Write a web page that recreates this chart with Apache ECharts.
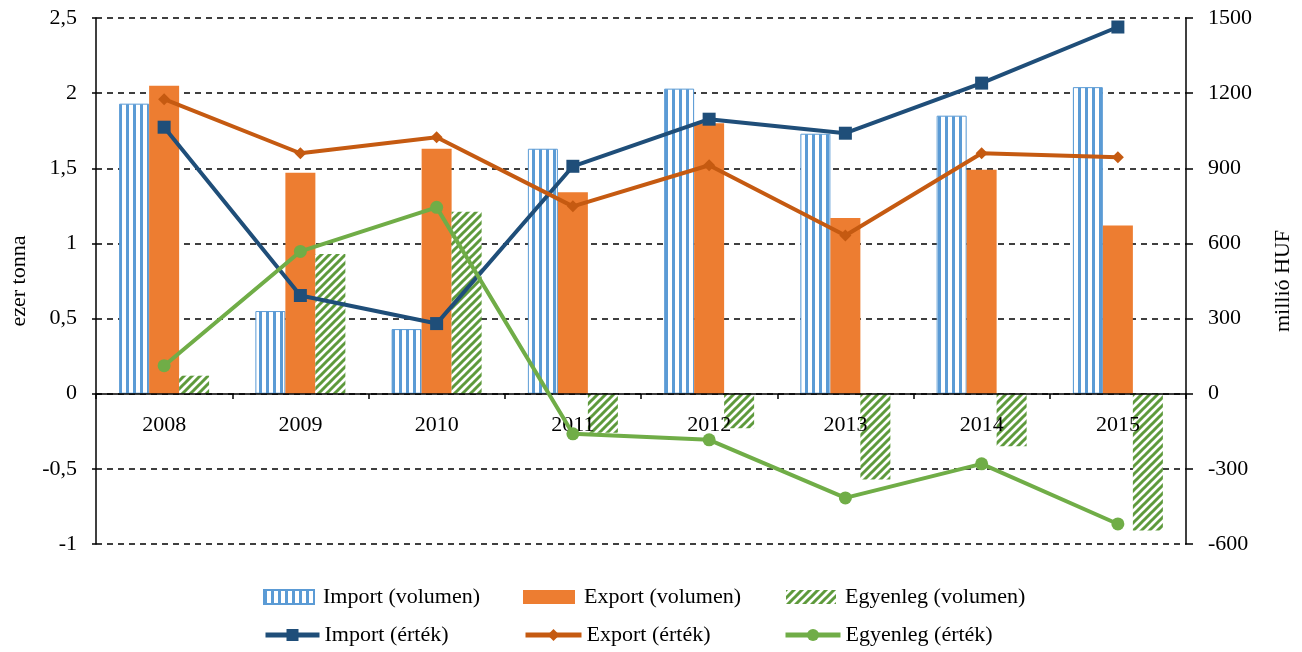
<!DOCTYPE html>
<html>
<head>
<meta charset="utf-8">
<script src="https://cdn.jsdelivr.net/npm/echarts@6/dist/echarts.min.js"></script>
<style>
html, body { margin: 0; padding: 0; background: #fff; }
#chart { width: 1302px; height: 652px; }
</style>
</head>
<body>
<div id="chart"></div>
<script>
const years = ["2008", "2009", "2010", "2011", "2012", "2013", "2014", "2015"];
// ezer tonna
const importVol = [1.93, 0.55, 0.43, 1.63, 2.03, 1.73, 1.85, 2.04];
const exportVol = [2.05, 1.47, 1.63, 1.34, 1.80, 1.17, 1.49, 1.12];
const balanceVol = [0.12, 0.93, 1.21, -0.26, -0.23, -0.57, -0.35, -0.91];
// millió HUF
const importVal = [1064, 392, 280, 908, 1096, 1040, 1240, 1464];
const exportVal = [1176, 960, 1024, 748, 912, 632, 960, 944];
const balanceVal = [112, 568, 744, -160, -184, -416, -280, -520];

const font = "Liberation Serif";

function stripes() {
  const c = document.createElement("canvas");
  c.width = 7; c.height = 8;
  const g = c.getContext("2d");
  g.fillStyle = "#fff";
  g.fillRect(0, 0, 7, 8);
  g.fillStyle = "#5B9BD5";
  g.fillRect(0, 0, 3, 8);
  return c;
}

function hatch() {
  const c = document.createElement("canvas");
  c.width = 8; c.height = 8;
  const g = c.getContext("2d");
  g.fillStyle = "#fff";
  g.fillRect(0, 0, 8, 8);
  g.strokeStyle = "#5E9A3C";
  g.lineWidth = 3;
  g.beginPath();
  g.moveTo(-2, 2); g.lineTo(2, -2);
  g.moveTo(0, 8); g.lineTo(8, 0);
  g.moveTo(6, 10); g.lineTo(10, 6);
  g.stroke();
  return c;
}

const chart = echarts.init(document.getElementById("chart"));

// one legend per entry so the two rows line up like the original
function barLegend(name, left, w) {
  return {
    data: [{ name: name, icon: "rect" }], left: left, top: 586, padding: 0,
    itemWidth: w, itemHeight: 14, itemGap: 0,
    textStyle: { fontFamily: font, fontSize: 22, color: "#000", padding: [0, 0, 0, 4] }
  };
}
function lineLegend(name, left, w) {
  return {
    data: [name], left: left, top: 624, padding: 0,
    itemWidth: w, itemHeight: 15, itemGap: 0,
    lineStyle: { width: 5 },
    textStyle: { fontFamily: font, fontSize: 22, color: "#000", padding: [0, 0, 0, 0] }
  };
}

chart.setOption({
  animation: false,
  grid: { left: 93, right: 113, top: 18, bottom: 108 },
  legend: [
    barLegend("Import (volumen)", 263, 50),
    barLegend("Export (volumen)", 523, 52),
    barLegend("Egyenleg (volumen)", 786, 50),
    lineLegend("Import (érték)", 263, 54),
    lineLegend("Export (érték)", 523, 56),
    lineLegend("Egyenleg (érték)", 783, 55)
  ],
  xAxis: {
    type: "category",
    data: years,
    z: 3,
    position: "bottom",
    offset: -150,
    axisLine: { onZero: false, lineStyle: { color: "#000", width: 1.5 } },
    axisTick: { show: true, length: 5, lineStyle: { color: "#000", width: 1.5 } },
    axisLabel: { fontFamily: font, fontSize: 22, color: "#000", margin: 20 },
    splitLine: { show: false }
  },
  yAxis: [
    {
      type: "value",
      min: -1, max: 2.5, interval: 0.5,
      name: "ezer tonna",
      nameLocation: "middle",
      nameGap: 66,
      nameRotate: 90,
      nameTextStyle: { fontFamily: font, fontSize: 22, color: "#000" },
      axisLine: { show: true, onZero: false, lineStyle: { color: "#000", width: 1.5 } },
      axisTick: { show: true, length: 4, lineStyle: { color: "#000", width: 1.5 } },
      axisLabel: {
        fontFamily: font, fontSize: 22, color: "#000", margin: 19,
        formatter: v => String(v).replace(".", ",")
      },
      splitLine: { show: true, lineStyle: { color: "#000", type: [6, 5], width: 1.5 } }
    },
    {
      type: "value",
      min: -600, max: 1500, interval: 300,
      name: "millió HUF",
      nameLocation: "middle",
      nameGap: 86,
      nameRotate: 90,
      nameTextStyle: { fontFamily: font, fontSize: 22, color: "#000" },
      axisLine: { show: true, onZero: false, lineStyle: { color: "#000", width: 1.5 } },
      axisTick: { show: true, length: 7, lineStyle: { color: "#000", width: 1.5 } },
      axisLabel: { fontFamily: font, fontSize: 22, color: "#000", margin: 22, formatter: v => String(v) },
      splitLine: { show: false }
    }
  ],
  series: [
    {
      name: "Import (volumen)", type: "bar", yAxisIndex: 0,
      barWidth: 30, barGap: "0%",
      itemStyle: { color: { image: stripes(), repeat: "repeat" }, borderColor: "#5B9BD5", borderWidth: 1 },
      data: importVol
    },
    {
      name: "Export (volumen)", type: "bar", yAxisIndex: 0,
      barWidth: 30, barGap: "0%",
      itemStyle: { color: "#ED7D31" },
      data: exportVol
    },
    {
      name: "Egyenleg (volumen)", type: "bar", yAxisIndex: 0,
      barWidth: 30, barGap: "0%",
      itemStyle: { color: { image: hatch(), repeat: "repeat" } },
      data: balanceVol
    },
    {
      name: "Import (érték)", type: "line", yAxisIndex: 1, z: 5,
      symbol: "rect", symbolSize: 13,
      lineStyle: { color: "#1F4E79", width: 4 },
      itemStyle: { color: "#1F4E79" },
      data: importVal
    },
    {
      name: "Export (érték)", type: "line", yAxisIndex: 1, z: 5,
      symbol: "diamond", symbolSize: 12,
      lineStyle: { color: "#C55A11", width: 4 },
      itemStyle: { color: "#C55A11" },
      data: exportVal
    },
    {
      name: "Egyenleg (érték)", type: "line", yAxisIndex: 1, z: 5,
      symbol: "circle", symbolSize: 13,
      lineStyle: { color: "#70AD47", width: 4 },
      itemStyle: { color: "#70AD47" },
      data: balanceVal
    }
  ]
});
</script>
</body>
</html>
